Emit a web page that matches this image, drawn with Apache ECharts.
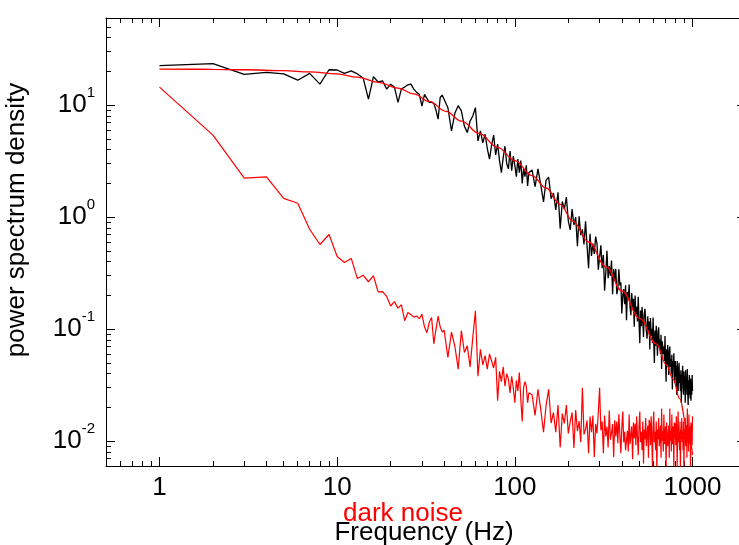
<!DOCTYPE html>
<html>
<head>
<meta charset="utf-8">
<script src="https://cdn.jsdelivr.net/npm/echarts@6/dist/echarts.min.js"></script>
<style>
  html, body { margin: 0; padding: 0; background: #fff; }
  #chart { width: 739px; height: 545px; }
</style>
</head>
<body>
<div id="chart"></div>
<script>
// frequency bins (Hz): 1 Hz bins at the low end, coarser samples above
function range(start, stop, step) {
  const out = [];
  for (let f = start; f <= stop; f += step) out.push(f);
  return out;
}
const freqLow = range(1, 40, 1);
const freqMid = range(42, 120, 2);
const freqHigh = range(125, 1000, 5);

// measured spectrum (black)
const psdLow = [22.5, 23.5, 18.8, 19.6, 19.0, 16.7, 19.2, 15.4, 20.7, 20.6,
  19.2, 20.2, 19.0, 17.5, 11.3, 18.0, 16.1, 16.5, 13.9, 15.4,
  14.5, 10.6, 14.0, 14.5, 15.2, 15.4, 13.9, 13.0, 12.5, 9.8,
  12.5, 11.5, 10.6, 10.6, 10.4, 9.0, 7.5, 11.7, 12.3, 12.0];
const psdMid = [9.5, 5.9, 8.5, 9.9, 8.9, 6.5, 5.7, 7.2, 8.0, 9.5,
  4.8, 5.9, 4.6, 5.5, 4.1, 3.3, 4.4, 5.4, 3.6, 4.5,
  3.2, 2.5, 3.4, 4.3, 3.0, 2.7, 3.9, 2.6, 3.5, 2.9,
  2.3, 3.3, 2.5, 3.2, 2.0, 2.7, 2.3, 2.9, 1.9, 2.5];
const psdHigh = [2.64, 1.87, 2.70, 1.93, 1.37, 2.14, 2.28, 1.46, 1.64, 1.16,
  1.67, 0.79, 1.38, 1.18, 1.51, 0.92, 0.77, 1.18, 0.85, 1.00,
  0.55, 1.02, 0.69, 0.78, 0.57, 0.92, 0.55, 0.35,
  0.71, 0.45, 0.58, 0.47, 0.67, 0.58, 0.34, 0.44, 0.56, 0.35,
  0.46, 0.22, 0.32, 0.50, 0.285, 0.365, 0.30, 0.41, 0.205, 0.345,
  0.27, 0.345, 0.205, 0.228, 0.343, 0.246, 0.262, 0.138,
  0.199, 0.228, 0.167, 0.247, 0.12, 0.215, 0.19, 0.25, 0.157, 0.133,
  0.21, 0.155, 0.187, 0.105, 0.20, 0.137, 0.158, 0.117, 0.195, 0.116,
  0.075, 0.147, 0.106, 0.158, 0.117, 0.085, 0.138, 0.152,
  0.153, 0.096, 0.082, 0.130, 0.097, 0.117, 0.066, 0.126, 0.087, 0.101,
  0.075, 0.127, 0.077, 0.050, 0.097, 0.071, 0.107, 0.080, 0.058, 0.095,
  0.104, 0.069, 0.081, 0.060, 0.089, 0.044, 0.078, 0.070,
  0.060, 0.070, 0.052, 0.087, 0.053, 0.034, 0.066, 0.048, 0.072, 0.053,
  0.039, 0.063, 0.070, 0.046, 0.054, 0.040, 0.059, 0.029, 0.052, 0.046,
  0.061, 0.038, 0.033, 0.052, 0.038, 0.047, 0.026, 0.052,
  0.037, 0.028, 0.044, 0.050, 0.033, 0.039, 0.028, 0.043, 0.022, 0.039,
  0.035, 0.047, 0.030, 0.026, 0.042, 0.032, 0.038, 0.022, 0.043, 0.030,
  0.034, 0.026, 0.044, 0.027, 0.021, 0.035, 0.026, 0.039,
  0.033, 0.024, 0.036, 0.023, 0.033, 0.026, 0.039, 0.028];

// dark noise spectrum (red)
const darkLow = [14.5, 5.4, 2.23, 2.29, 1.47, 1.33, 0.78, 0.57, 0.70, 0.445,
  0.394, 0.428, 0.283, 0.303, 0.265, 0.30, 0.215, 0.216, 0.196, 0.161,
  0.176, 0.154, 0.165, 0.119, 0.141, 0.135, 0.128, 0.131, 0.124, 0.136,
  0.105, 0.093, 0.115, 0.127, 0.074, 0.10, 0.131, 0.105, 0.094, 0.098];
const darkMid = [0.056, 0.094, 0.070, 0.044, 0.097, 0.062, 0.071, 0.046, 0.084, 0.146,
  0.038, 0.066, 0.048, 0.058, 0.044, 0.060, 0.052, 0.045, 0.056, 0.023,
  0.042, 0.034, 0.046, 0.031, 0.040, 0.036, 0.027, 0.038, 0.030, 0.022,
  0.035, 0.028, 0.041, 0.024, 0.015, 0.030, 0.034, 0.031, 0.022, 0.027];
const darkHigh = [0.026, 0.017, 0.029, 0.019, 0.012, 0.021, 0.029, 0.0145, 0.018, 0.012,
  0.021, 0.0088, 0.0176, 0.0144, 0.021, 0.0117, 0.015, 0.018, 0.0087, 0.019,
  0.0123, 0.0151, 0.0098, 0.030, 0.0115, 0.0127, 0.0153, 0.0078, 0.0166, 0.012,
  0.0169, 0.0072, 0.0143, 0.0117, 0.0182, 0.030, 0.0125, 0.015, 0.0078, 0.0169,
  0.011, 0.0135, 0.0088, 0.0188, 0.0103, 0.0118, 0.0142, 0.0072, 0.0154, 0.011,
  0.015, 0.0096, 0.0174, 0.0114, 0.0078, 0.0132, 0.0184, 0.0098, 0.0121, 0.0083,
  0.0101, 0.0124, 0.0081, 0.0173, 0.0094, 0.0113, 0.0136, 0.0069, 0.0147, 0.0106,
  0.0144, 0.0092, 0.0167, 0.0109, 0.0075, 0.0132, 0.0184, 0.0098, 0.0121, 0.0083,
  0.0150, 0.0063, 0.0127, 0.0104, 0.0161, 0.0090, 0.0115, 0.0138, 0.0071, 0.0155,
  0.0144, 0.0092, 0.0167, 0.0109, 0.0058, 0.0132, 0.0184, 0.0098, 0.0121, 0.0083,
  0.0150, 0.0052, 0.0127, 0.0104, 0.0161, 0.0090, 0.0115, 0.0138, 0.0071, 0.0196,
  0.0101, 0.0124, 0.0081, 0.0173, 0.0094, 0.0113, 0.0136, 0.0055, 0.0147, 0.0106,
  0.0090, 0.0115, 0.0138, 0.0071, 0.0196, 0.0101, 0.0124, 0.0081, 0.0173, 0.0094,
  0.0113, 0.0136, 0.0055, 0.0147, 0.0106, 0.0144, 0.0092, 0.0167, 0.0109, 0.0058,
  0.0132, 0.0184, 0.0098, 0.0121, 0.0083, 0.0150, 0.0052, 0.0127, 0.0104, 0.0161,
  0.0098, 0.0121, 0.0083, 0.0150, 0.0052, 0.0127, 0.0104, 0.0161, 0.0090, 0.0115,
  0.0138, 0.0071, 0.0196, 0.0101, 0.0124, 0.0081, 0.0173, 0.0094, 0.0113, 0.0136,
  0.0055, 0.0147, 0.0106, 0.0144, 0.0092, 0.0167];

// fitted model (smooth red)
const modelFreq = [1, 2, 3, 5, 7, 10, 13, 17, 22, 27, 33, 41, 50, 63, 80, 100,
  125, 150, 180, 212, 260, 327, 400, 504, 626, 713, 777, 847, 925, 965, 1000];
const modelPsd = [21.0, 20.9, 20.7, 20.3, 19.8, 19.0, 17.8, 16.0, 14.2, 12.6, 10.8, 8.8, 7.2, 5.6, 4.2, 3.2,
  2.35, 1.82, 1.30, 0.92, 0.60, 0.36, 0.22, 0.125, 0.074, 0.048, 0.036, 0.024, 0.0137, 0.0105, 0.0075];

// axis ticks
const xMajor = [1, 10, 100, 1000];
const xMinor = [0.6, 0.7, 0.8, 0.9, 2, 3, 4, 5, 6, 7, 8, 9, 20, 30, 40, 50, 60, 70, 80, 90,
  200, 300, 400, 500, 600, 700, 800, 900];
const yMajor = [0.01, 0.1, 1, 10];
const yMinor = [0.007, 0.008, 0.009, 0.02, 0.03, 0.04, 0.05, 0.06, 0.07, 0.08, 0.09,
  0.2, 0.3, 0.4, 0.5, 0.6, 0.7, 0.8, 0.9, 2, 3, 4, 5, 6, 7, 8, 9, 20, 30, 40, 50];

const X_MIN = 0.5, X_MAX = 2000;
const Y_MIN = 0.006, Y_MAX = 60;
const FONT = "'Liberation Sans', Arial, Helvetica, sans-serif";

function pairs(fs, vs) {
  return fs.map((f, i) => [f, vs[i]]);
}
const measured = pairs(freqLow, psdLow).concat(pairs(freqMid, psdMid), pairs(freqHigh, psdHigh));
const dark = pairs(freqLow, darkLow).concat(pairs(freqMid, darkMid), pairs(freqHigh, darkHigh));
const model = pairs(modelFreq, modelPsd);

function logAxis(min, max, position, ticks, len, line, label) {
  return {
    type: 'log',
    logBase: 10,
    min: min,
    max: max,
    position: position,
    splitLine: { show: false },
    axisLine: { show: line, lineStyle: { color: '#000', width: 1 } },
    axisTick: { show: true, inside: true, length: len, customValues: ticks, lineStyle: { color: '#000', width: 1 } },
    axisLabel: label || { show: false }
  };
}

const xLabel = {
  show: true,
  customValues: xMajor,
  margin: 9,
  color: '#000',
  fontFamily: FONT,
  fontSize: 26,
  formatter: (v) => String(Math.round(v))
};
const yLabel = {
  show: true,
  customValues: yMajor,
  margin: 11,
  color: '#000',
  fontFamily: FONT,
  formatter: (v) => '{b|10}{s|' + Math.round(Math.log10(v)) + '}',
  rich: {
    b: { fontSize: 26, fontFamily: FONT, color: '#000', lineHeight: 40 },
    s: { fontSize: 15, fontFamily: FONT, color: '#000', lineHeight: 15, verticalAlign: 'top' }
  }
};

const chart = echarts.init(document.getElementById('chart'), null, { renderer: 'canvas' });
chart.setOption({
  animation: false,
  backgroundColor: '#fff',
  // plot box runs past the right edge of the picture, as in the original
  grid: { left: 106, top: 18, width: 640, height: 448, outerBoundsMode: 'none' },
  xAxis: [
    logAxis(X_MIN, X_MAX, 'bottom', xMajor, 9, true, xLabel),
    logAxis(X_MIN, X_MAX, 'bottom', xMinor, 5, false),
    logAxis(X_MIN, X_MAX, 'top', xMajor, 9, true),
    logAxis(X_MIN, X_MAX, 'top', xMinor, 5, false)
  ],
  yAxis: [
    logAxis(Y_MIN, Y_MAX, 'left', yMajor, 9, true, yLabel),
    logAxis(Y_MIN, Y_MAX, 'left', yMinor, 5, false),
    logAxis(Y_MIN, Y_MAX, 'right', yMajor, 9, true),
    logAxis(Y_MIN, Y_MAX, 'right', yMinor, 5, false)
  ],
  series: [
    {
      name: 'measured',
      type: 'line',
      data: measured,
      symbol: 'none',
      clip: true,
      lineStyle: { color: '#000', width: 1.3 }
    },
    {
      name: 'dark noise',
      type: 'line',
      data: dark,
      symbol: 'none',
      clip: true,
      lineStyle: { color: '#ff0000', width: 1.2 }
    },
    {
      name: 'model',
      type: 'line',
      data: model,
      symbol: 'none',
      smooth: 0.4,
      smoothMonotone: 'x',
      clip: true,
      lineStyle: { color: '#ff0000', width: 1.3 }
    }
  ],
  graphic: [
    {
      type: 'text',
      x: 17,
      y: 220,
      rotation: Math.PI / 2,
      style: {
        text: 'power spectrum density',
        fill: '#000',
        font: '26px ' + FONT,
        align: 'center',
        verticalAlign: 'middle',
        textAlign: 'center',
        textVerticalAlign: 'middle'
      }
    },
    {
      type: 'text',
      x: 424,
      y: 533,
      style: {
        text: 'Frequency (Hz)',
        fill: '#000',
        font: '26px ' + FONT,
        align: 'center',
        verticalAlign: 'middle',
        textAlign: 'center',
        textVerticalAlign: 'middle'
      }
    },
    {
      type: 'text',
      x: 403,
      y: 514,
      style: {
        text: 'dark noise',
        fill: '#ff0000',
        font: '26px ' + FONT,
        align: 'center',
        verticalAlign: 'middle',
        textAlign: 'center',
        textVerticalAlign: 'middle'
      }
    }
  ]
});
</script>
</body>
</html>
